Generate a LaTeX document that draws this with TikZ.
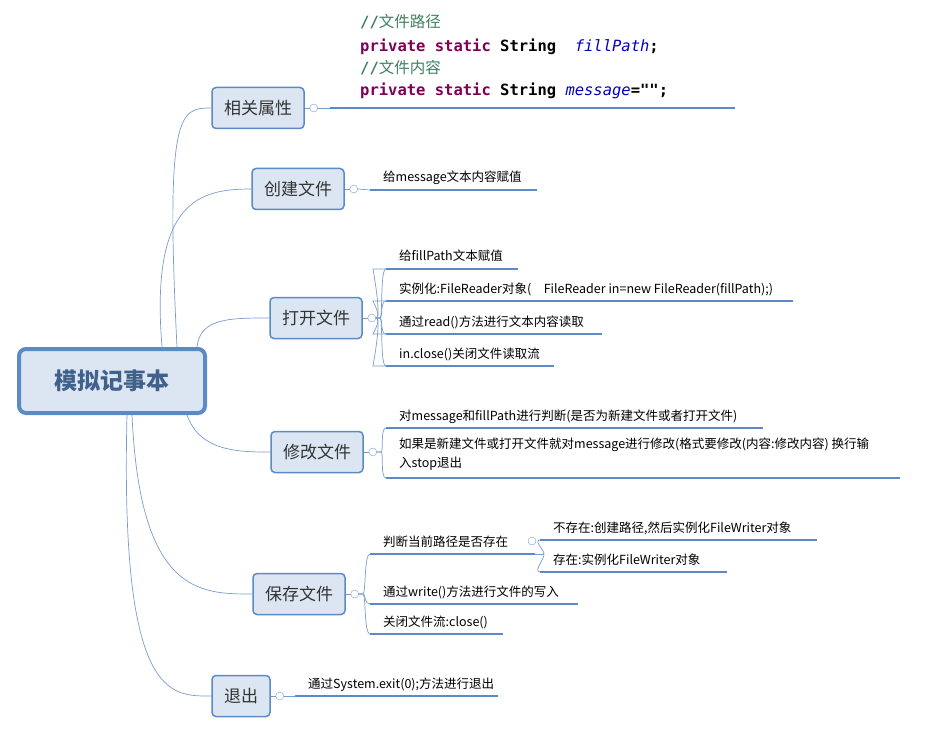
\documentclass[tikz,border=0pt]{standalone}
\usepackage{fontspec}
\setmainfont{Noto Sans CJK SC}
\setmonofont{DejaVu Sans Mono}
\newfontfamily\cjk{Noto Sans CJK SC}
\usetikzlibrary{positioning}
\definecolor{mmblue}{HTML}{5B8AC6}
\definecolor{mmfill}{HTML}{DCE6F2}
\definecolor{mmline}{HTML}{7A9CCB}
\definecolor{cmt}{HTML}{3F7F5F}
\definecolor{kw}{HTML}{7F0055}
\definecolor{fld}{HTML}{0000C0}
\tikzset{
    topic/.style={draw=mmblue, fill=mmfill, line width=1.5pt, rounded corners=4pt, minimum height=41pt, inner xsep=12pt, font=\fontsize{17}{20}\selectfont, text=black!80},
    root/.style={topic, line width=4pt, rounded corners=7pt, minimum width=186pt, minimum height=64pt, font=\fontsize{23}{27}\selectfont\bfseries, text=mmblue!70!black},
    fold/.style={draw=mmline, fill=white, circle, inner sep=0pt, minimum size=8pt},
    branch/.style={draw=mmline, line width=0.7pt},
    uline/.style={draw=mmblue, line width=2.5pt},
    leaf/.style={anchor=base west, inner sep=0pt, font=\fontsize{12.5}{19}\selectfont, text=black},
    code/.style={anchor=base west, inner sep=0pt, font=\ttfamily\bfseries\fontsize{15.5}{18}\selectfont},
}
% leaf: name, x start, y, x end, text
\newcommand{\mmleaf}[5]{%
  \coordinate (#1) at (#2,#3);
  \coordinate (#1-e) at (#4,#3);
  \draw[uline] (#1) -- (#1-e);
  \node[leaf] (#1-t) at ([xshift=13pt, yshift=8pt]#1) {#5};
}
\begin{document}
\begin{tikzpicture}[x=1pt, y=-1pt]
\useasboundingbox (0,0) rectangle (939,735);

% --- root and topics ---
\node[root] (R) at (112,381) {模拟记事本};
\node[topic] (T1) at (258,108) {相关属性};
\node[topic] (T2) at (298,189) {创建文件};
\node[topic] (T3) at (316,318) {打开文件};
\node[topic] (T4) at (317,452) {修改文件};
\node[topic] (T5) at (299,594) {保存文件};
\node[topic] (T6) at (241,696) {退出};

% root -> topics
\draw[branch] (R.north east) ++(-30,0) .. controls (165,110) and (180,108) .. (T1.west);
\draw[branch] (R.north east) ++(-45,0) .. controls (150,200) and (200,189) .. (T2.west);
\draw[branch] (R.north east) ++(-10,0) .. controls (200,318) and (230,318) .. (T3.west);
\draw[branch] (R.south east) ++(-20,0) .. controls (200,452) and (240,452) .. (T4.west);
\draw[branch] (R.south east) ++(-75,0) .. controls (140,594) and (200,594) .. (T5.west);
\draw[branch] (R.south east) ++(-80,0) .. controls (120,700) and (170,696) .. (T6.west);

% --- fold markers ---
\node[fold] (F1) at ([xshift=9pt]T1.east) {};
\node[fold] (F2) at ([xshift=9pt]T2.east) {};
\node[fold] (F3) at ([xshift=9pt]T3.east) {};
\node[fold] (F4) at ([xshift=9pt]T4.east) {};
\node[fold] (F5) at ([xshift=9pt]T5.east) {};
\node[fold] (F6) at ([xshift=9pt]T6.east) {};
\foreach \t in {1,...,6} \draw[branch] (T\t.east) -- (F\t.west);

% --- 相关属性 ---
\coordinate (A) at (330,108);
\coordinate (A-e) at (735,108);
\draw[uline] (A) -- (A-e);
\draw[branch] (F1.east) -- (A);
\node[code, text=cmt] (C1) at (360,28) {//{\cjk\mdseries 文件路径}};
\node[code, text=kw] (C2) at (360,52) {private static \textcolor{black}{String} \textcolor{fld}{\mdseries\itshape\ fillPath}\textcolor{black}{;}};
\node[code, text=cmt] (C3) at (360,74) {//{\cjk\mdseries 文件内容}};
\node[code, text=kw] (C4) at (360,96) {private static \textcolor{black}{String} \textcolor{fld}{\mdseries\itshape message}\textcolor{black}{=\char`\"\char`\";}};

% --- 创建文件 ---
\mmleaf{B}{370}{190}{537}{给message文本内容赋值}
\draw[branch] (F2.east) -- (B);

% --- 打开文件 ---
\mmleaf{O1}{386}{269}{518}{给fillPath文本赋值}
\mmleaf{O2}{386}{301}{793}{实例化:FileReader对象(\quad FileReader in=new FileReader(fillPath);)}
\mmleaf{O3}{386}{334}{602}{通过read()方法进行文本内容读取}
\mmleaf{O4}{386}{366}{554}{in.close()关闭文件读取流}
\foreach \c in {O1,O2,O3,O4}
  \draw[branch] (F3.east) .. controls +(6,0) and +(0,0) .. ([xshift=-3pt]F3.east |- \c) -- (\c);
\foreach \c in {O1,O2,O3,O4}
  \draw[branch] (F3.east) -- ++(4,0) .. controls +(3,0) and +(-6,0) .. (\c);

% --- 修改文件 ---
\mmleaf{M1}{386}{428}{763}{对message和fillPath进行判断(是否为新建文件或者打开文件)}
\coordinate (M2) at (386,478);
\coordinate (M2-e) at (900,478);
\draw[uline] (M2) -- (M2-e);
\node[leaf, align=left, anchor=north west] (M2-t) at (399,438) {如果是新建文件或打开文件就对message进行修改(格式要修改(内容:修改内容) 换行输\\入stop退出};
\foreach \c in {M1,M2}
  \draw[branch] (F4.east) -- ++(4,0) .. controls +(3,0) and +(-6,0) .. (\c);

% --- 保存文件 ---
\mmleaf{S1}{370}{554}{535}{判断当前路径是否存在}
\mmleaf{S2}{370}{604}{578}{通过write()方法进行文件的写入}
\mmleaf{S3}{370}{634}{503}{关闭文件流:close()}
\foreach \c in {S1,S2,S3}
  \draw[branch] (F5.east) -- ++(4,0) .. controls +(3,0) and +(-6,0) .. (\c);
\node[fold] (F7) at (532,541) {};
\mmleaf{P1}{540}{540}{817}{不存在:创建路径,然后实例化FileWriter对象}
\mmleaf{P2}{540}{572}{727}{存在:实例化FileWriter对象}
\draw[branch] (S1-e) -- ([xshift=8pt]S1-e);
\foreach \c in {P1,P2}
  \draw[branch] ([xshift=8pt]S1-e) .. controls +(5,0) and +(-8,0) .. (\c);

% --- 退出 ---
\mmleaf{Q}{295}{696}{498}{通过System.exit(0);方法进行退出}
\draw[branch] (F6.east) -- (Q);

\end{tikzpicture}
\end{document}
